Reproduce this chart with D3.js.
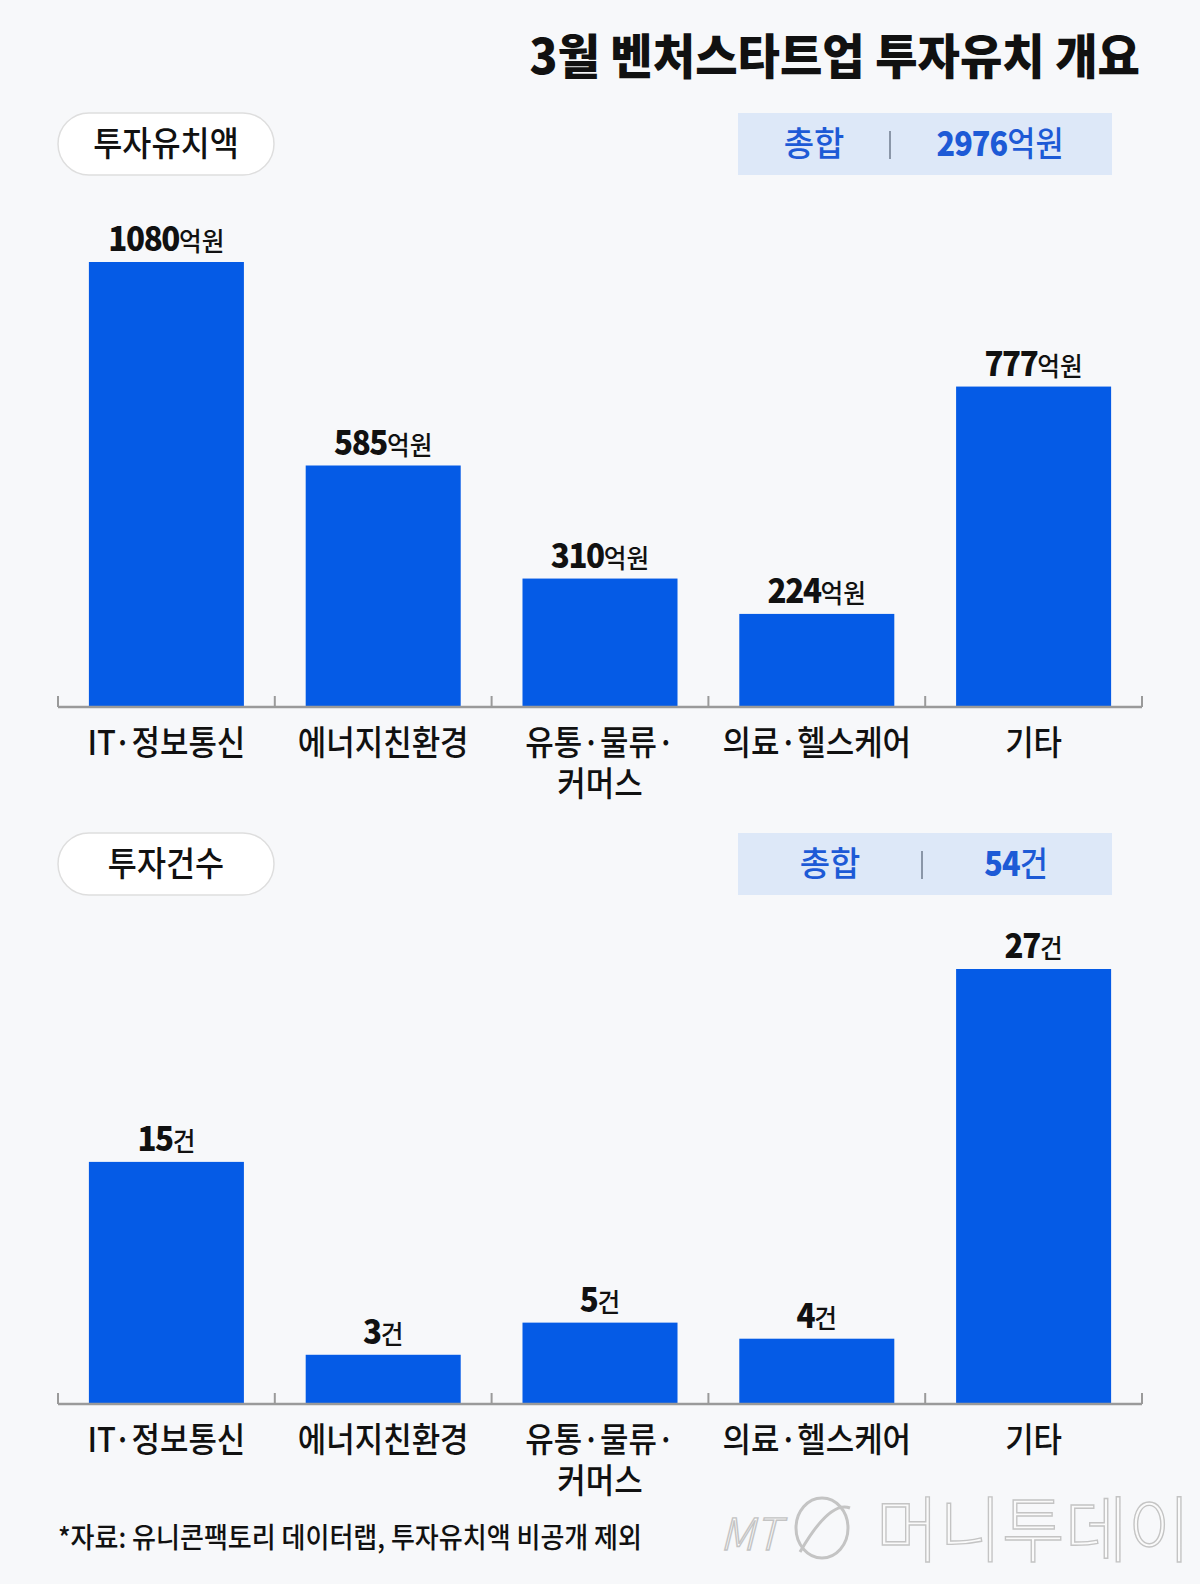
<!DOCTYPE html>
<html><head><meta charset="utf-8">
<script src="https://cdn.jsdelivr.net/npm/d3@7"></script>
<style>
html,body{margin:0;padding:0;background:#f7f8fa;}
svg{display:block;font-family:"Noto Sans CJK KR","Noto Sans",sans-serif;}
</style></head><body>
<svg id="c" width="1200" height="1584"></svg>
<script>
const titleText = "3월 벤처스타트업 투자유치 개요";
const categories = ["IT·정보통신", "에너지친환경", "유통·물류·\n커머스", "의료·헬스케어", "기타"];
const amounts = [1080, 585, 310, 224, 777];
const counts = [15, 3, 5, 4, 27];
const amountUnit = "억원";
const countUnit = "건";
const sectionTitles = ["투자유치액", "투자건수"];
const totalLabel = "총합";
const totals = [2976, 54];
const sourceText = "*자료: 유니콘팩토리 데이터랩, 투자유치액 비공개 제외";

const BLUE = "#055be6";
const svg = d3.select("#c");
svg.append("rect").attr("width",1200).attr("height",1584).attr("fill","#f7f8fa");

function sText(parent, x, y, sx, anchor){
  return parent.append("text")
    .attr("transform", `translate(${x},${y}) scale(${sx},1)`)
    .attr("text-anchor", anchor || "middle");
}

// Title
sText(svg, 1140, 74, 0.96, "end")
  .attr("font-size", 48).attr("font-weight", 900).attr("fill", "#111")
  .text(titleText);

const x = d3.scaleBand().domain(categories).range([58, 1142]).paddingInner(0.285).paddingOuter(0.1425);

function section(idx, values, unit, headerTop, yScale, labelY){
  const g = svg.append("g");
  // pill
  g.append("rect").attr("x",58).attr("y",headerTop).attr("width",216).attr("height",62)
    .attr("rx",31).attr("fill","#fff").attr("stroke","#dedede").attr("stroke-width",1.5);
  sText(g, 166, headerTop+43, 0.93).attr("font-size",34).attr("font-weight",500).attr("fill","#111")
    .text(sectionTitles[idx]);
  // summary box
  g.append("rect").attr("x",738).attr("y",headerTop).attr("width",374).attr("height",62).attr("fill","#dde8f8");
  const lx = idx===0 ? 814 : 830, dx = idx===0 ? 890 : 922, vx = idx===0 ? 1000 : 1016;
  sText(g, lx, headerTop+43, 0.97).attr("font-size",34).attr("font-weight",500).attr("fill","#1d5ad6").text(totalLabel);
  g.append("line").attr("x1",dx).attr("x2",dx).attr("y1",headerTop+18).attr("y2",headerTop+46)
    .attr("stroke","#8a96a8").attr("stroke-width",2);
  const tv = sText(g, vx, headerTop+43, 0.9).attr("font-size",34).attr("fill","#1d5ad6");
  tv.append("tspan").attr("font-weight",900).attr("letter-spacing",-1).text(totals[idx]);
  tv.append("tspan").attr("font-weight",500).text(unit);

  const base = yScale(0);
  // bars
  g.selectAll("rect.bar").data(values).join("rect").attr("class","bar")
    .attr("x",(d,i)=>x(categories[i])).attr("width",x.bandwidth())
    .attr("y",d=>yScale(d)).attr("height",d=>base-yScale(d)).attr("fill",BLUE);
  // axis
  g.append("line").attr("x1",x.range()[0]).attr("x2",x.range()[1]).attr("y1",base+1).attr("y2",base+1)
    .attr("stroke","#9a9a9a").attr("stroke-width",2.5);
  d3.range(categories.length+1).forEach(i=>{
    const tx = x.range()[0] + i*x.step();
    g.append("line").attr("x1",tx).attr("x2",tx).attr("y1",base-10).attr("y2",base+1)
      .attr("stroke","#9a9a9a").attr("stroke-width",2);
  });
  // value labels
  values.forEach((v,i)=>{
    const cx = x(categories[i]) + x.bandwidth()/2;
    const t = sText(g, cx, yScale(v)-11, 0.95).attr("fill","#111");
    t.append("tspan").attr("font-size",33).attr("font-weight",900).attr("letter-spacing",-1.5).text(v);
    t.append("tspan").attr("font-size",26).attr("font-weight",500).text(unit);
  });
  // category labels
  categories.forEach((c,i)=>{
    const cx = x(c) + x.bandwidth()/2;
    const t = sText(g, cx, labelY, 0.91).attr("font-size",34).attr("font-weight",500).attr("fill","#111");
    c.split("\n").forEach((line,j)=>{
      t.append("tspan").attr("x",0).attr("dy", j===0 ? 0 : 41).text(line);
    });
  });
}

const y1 = d3.scaleLinear().domain([0, d3.max(amounts)]).range([706, 262]);
const y2 = d3.scaleLinear().domain([0, d3.max(counts)]).range([1403, 969]);
section(0, amounts, amountUnit, 113, y1, 755);
section(1, counts, countUnit, 833, y2, 1452);

// source
sText(svg, 58, 1548, 0.93, "start").attr("font-size",28).attr("font-weight",500).attr("fill","#111").text(sourceText);

// watermark
const wm = svg.append("g").attr("fill","#fafafa").attr("stroke","#c4c4c4").attr("stroke-width",1.4);
sText(wm, 720, 1550, 1, "start").attr("font-size",44).attr("font-style","italic").attr("font-weight",300).text("MT");
wm.append("ellipse").attr("cx",822).attr("cy",1528).attr("rx",26).attr("ry",30).attr("fill","none").attr("stroke-width",3);
wm.append("path").attr("d","M800,1552 Q830,1500 850,1508").attr("fill","none").attr("stroke-width",3);
sText(wm, 876, 1556, 0.95, "start").attr("font-size",72).attr("font-weight",300).text("머니투데이");
</script>
</body></html>
